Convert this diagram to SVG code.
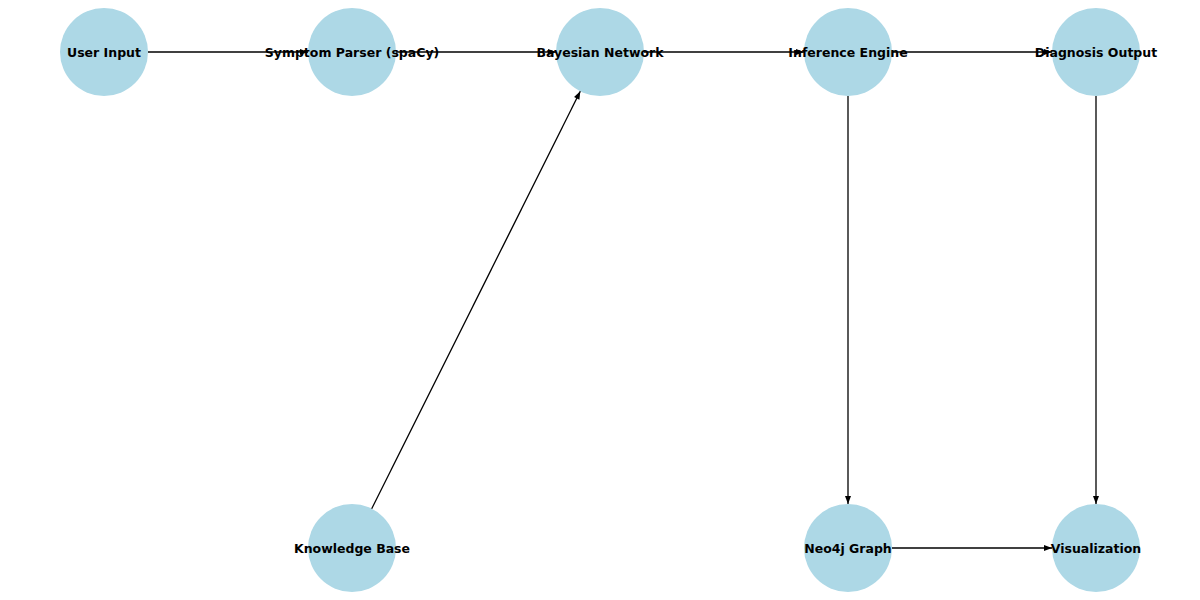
<svg xmlns="http://www.w3.org/2000/svg" width="1200" height="600" viewBox="0 0 1200 600">
<defs>
<style>
.n{fill:#add8e6}
.t{font-family:"DejaVu Sans",sans-serif;font-weight:bold;font-size:12.5px;text-anchor:middle;fill:#000}
.e{stroke:#000;stroke-width:1.3;fill:none;marker-end:url(#a)}
</style>
<marker id="a" markerUnits="userSpaceOnUse" markerWidth="10" markerHeight="10" viewBox="0 0 10 10" refX="10" refY="5" orient="auto">
<path d="M2,2 L10,5 L2,8 Z" fill="#000"/>
</marker>
</defs>
<g id="nodes-bg">
<circle class="n" cx="104" cy="52" r="44"/>
<circle class="n" cx="352" cy="52" r="44"/>
<circle class="n" cx="600" cy="52" r="44"/>
<circle class="n" cx="848" cy="52" r="44"/>
<circle class="n" cx="1096" cy="52" r="44"/>
<circle class="n" cx="352" cy="548" r="44"/>
<circle class="n" cx="848" cy="548" r="44"/>
<circle class="n" cx="1096" cy="548" r="44"/>
</g>
<g id="edges">
<line class="e" x1="148" y1="52" x2="308" y2="52"/>
<line class="e" x1="396" y1="52" x2="556" y2="52"/>
<line class="e" x1="644" y1="52" x2="804" y2="52"/>
<line class="e" x1="892" y1="52" x2="1052" y2="52"/>
<line class="e" x1="371.7" y1="508.7" x2="580.3" y2="91.3"/>
<line class="e" x1="848" y1="96" x2="848" y2="504"/>
<line class="e" x1="1096" y1="96" x2="1096" y2="504"/>
<line class="e" x1="892" y1="548" x2="1052" y2="548"/>
</g>
<g id="user-input"><text class="t" x="104" y="56.5">User Input</text></g>
<g id="symptom-parser"><text class="t" x="352" y="56.5">Symptom Parser (spaCy)</text></g>
<g id="bayesian-network"><text class="t" x="600" y="56.5">Bayesian Network</text></g>
<g id="inference-engine"><text class="t" x="848" y="56.5">Inference Engine</text></g>
<g id="diagnosis-output"><text class="t" x="1096" y="56.5">Diagnosis Output</text></g>
<g id="knowledge-base"><text class="t" x="352" y="552.5">Knowledge Base</text></g>
<g id="neo4j-graph"><text class="t" x="848" y="552.5">Neo4j Graph</text></g>
<g id="visualization"><text class="t" x="1096" y="552.5">Visualization</text></g>
</svg>
